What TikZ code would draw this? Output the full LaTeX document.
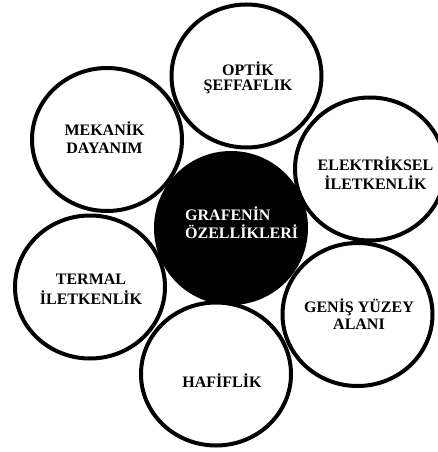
\documentclass[tikz,border=0pt]{standalone}
\usepackage{fontspec}
\setmainfont{Liberation Serif}
\usetikzlibrary{shapes.geometric}
\tikzset{
  bubblefill/.style={ellipse, minimum width=150pt, minimum height=143pt, inner sep=0pt, fill=white},
  bubbleline/.style={line width=4pt, draw=black},
  core/.style={circle, minimum size=154pt, inner sep=0pt, fill=black},
  lbl/.style={inner sep=0pt, anchor=base, font=\bfseries\fontsize{16}{18}\selectfont},
}
\newcommand{\twol}[3][0pt]{\begin{tabular}[t]{@{}c@{}}#2\\[#1]#3\end{tabular}}
\begin{document}
\begin{tikzpicture}[x=1pt,y=-1pt]
\useasboundingbox (0,0) rectangle (438,452);
\clip (0,0) rectangle (438,452);
\node[core] (core) at (231,228) {};
\node[bubblefill] (opt) at (246.5,76) {};
\node[bubblefill] (mek) at (107,139.5) {};
\node[bubblefill] (ele) at (370,169) {};
\node[bubblefill] (ter) at (90,287) {};
\node[bubblefill] (gen) at (357.5,314.5) {};
\node[bubblefill] (haf) at (216,374) {};
\foreach \n in {opt,mek,ele,ter,gen,haf}
  \draw[bubbleline] (\n.center) ellipse [x radius=75pt, y radius=71.5pt];
\node[lbl] (optT) at (248,75.5) {\twol[-3.5pt]{OPTİK}{ŞEFFAFLIK}};
\node[lbl] (mekT) at (104.5,135) {\twol{MEKANİK}{DAYANIM}};
\node[lbl] (eleT) at (375.5,170) {\twol{ELEKTRİKSEL}{İLETKENLİK}};
\node[lbl, anchor=base west, text=white] (coreT) at (185,220.5) {\begin{tabular}[t]{@{}l@{}}GRAFENİN\\[-1pt]ÖZELLİKLERİ\end{tabular}};
\node[lbl] (terT) at (91,284) {\twol[1pt]{TERMAL}{İLETKENLİK}};
\node[lbl] (genT) at (359,312) {\twol[-1pt]{GENİŞ YÜZEY}{ALANI}};
\node[lbl] (hafT) at (222,387) {HAFİFLİK};
\end{tikzpicture}
\end{document}
